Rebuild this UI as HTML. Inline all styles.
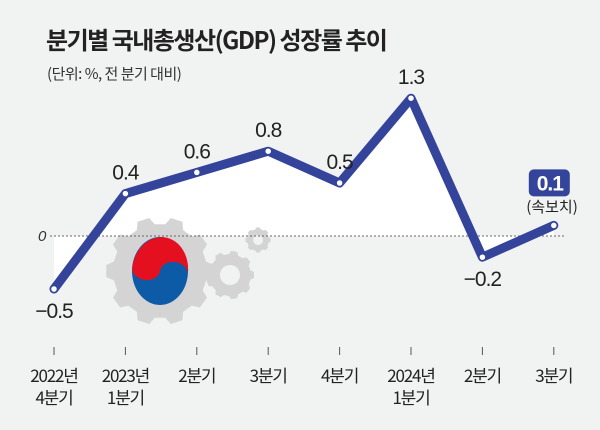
<!DOCTYPE html>
<html><head><meta charset="utf-8"><style>
body{margin:0;background:#f1f2f2;width:600px;height:430px;overflow:hidden;font-family:"Liberation Sans","Noto Sans CJK KR",sans-serif}
</style></head><body>
<svg width="600" height="430" style="position:absolute;left:0;top:0">
<text x="46" y="49" font-size="24" font-weight="bold" fill="#222" font-family="Noto Sans CJK KR, sans-serif" letter-spacing="-1.5">분기별 국내총생산(GDP) 성장률 추이</text>
<text x="47" y="79" font-size="15" fill="#333" font-family="Noto Sans CJK KR, sans-serif" letter-spacing="-0.5">(단위: %, 전 분기 대비)</text>
<g id="chart"></g>
</svg>
<script>
const categories1=["2022년","2023년","2분기","3분기","4분기","2024년","2분기","3분기"];
const categories2=["4분기","1분기","","","","1분기","",""];
const values=[-0.5,0.4,0.6,0.8,0.5,1.3,-0.2,0.1];
const labels=["−0.5","0.4","0.6","0.8","0.5","1.3","−0.2","0.1"];
const NS="http://www.w3.org/2000/svg";
const g=document.getElementById('chart');
const x=i=>54+i*71.4;
const y=v=>236-v*106;
function mk(t,a,p){const e=document.createElementNS(NS,t);for(const k in a)e.setAttribute(k,a[k]);(p||g).appendChild(e);return e;}
let pts=values.map((v,i)=>x(i)+","+y(v)).join(" ");
const area=mk('polygon',{points:x(0)+","+y(0)+" "+pts+" "+x(values.length-1)+","+y(0),fill:"#fff"});


const d=mk('g',{});


function gear(cx,cy,r,teeth,hole){
 let p="";for(let i=0;i<teeth*2;i++){const a=i*Math.PI/teeth;const rr=i%2?r:r*1.15;for(const da of[-0.18,0.18]){const aa=a+da*Math.PI/teeth*2;p+=(p?"L":"M")+(cx+rr*Math.cos(aa))+","+(cy+rr*Math.sin(aa));}}
 mk('path',{d:p+"Z",fill:"#d4d4d4"},d);if(hole)mk('circle',{cx,cy,r:hole,fill:"#f1f2f2"},d);
}
gear(160,271,47,10,0);gear(230,275,21,9,10);gear(258,240,11,8,5);
mk('ellipse',{cx:160,cy:271,rx:28,ry:34,fill:"#0d5aa7"},d);
mk('path',{d:"M132,271 A28,34 0 0 1 188,271 A14,11 0 0 0 160,271 A14,11 0 0 1 132,271Z",fill:"#e5101f",transform:"rotate(8 160 271)"},d);
const zl=mk('line',{x1:50,x2:566,y1:y(0),y2:y(0),stroke:"#666","stroke-dasharray":"2,2","stroke-width":1});


const zt=mk('text',{x:38,y:y(0)+5,"font-size":15,"font-style":"italic",fill:"#333"});zt.textContent="0";


const line=mk('polyline',{points:pts,fill:"none",stroke:"#34449a","stroke-width":9,"stroke-linejoin":"round","stroke-linecap":"round"});


values.forEach((v,i)=>{
 const c=mk('circle',{cx:x(i),cy:y(v),r:3.5,fill:"#fff",stroke:"#34449a","stroke-width":1.5});
 
 
 const last=i===values.length-1;
 if(last){
  const b=mk('rect',{x:x(i)-25,y:y(v)-56,width:41,height:27,rx:5,fill:"#34449a"});
  
  
 }
 const ty=last?y(v)-35:(v<0?y(v)+29:y(v)-14);
 const t=mk('text',{x:last?x(i)-4:x(i),y:ty,"text-anchor":"middle","font-size":21,fill:last?"#fff":"#222","letter-spacing":"-1","font-weight":last?"bold":"normal"});
 t.textContent=labels[i];
 
 
 const tk=mk('line',{x1:x(i),x2:x(i),y1:347,y2:355,stroke:"#555","stroke-width":1});
 
 
 const l1=mk('text',{x:x(i),y:382,"text-anchor":"middle","font-size":17,fill:"#222","letter-spacing":"-1.2","font-family":"Noto Sans CJK KR, sans-serif"});
 l1.textContent=categories1[i];
 
 
 if(categories2[i]){const l2=mk('text',{x:x(i),y:404,"text-anchor":"middle","font-size":17,fill:"#222","letter-spacing":"-1.2","font-family":"Noto Sans CJK KR, sans-serif"});
 l2.textContent=categories2[i];
 
 }
});
const pn=mk('text',{x:552,y:212,"text-anchor":"middle","font-size":15,fill:"#222","font-family":"Noto Sans CJK KR, sans-serif"});
pn.textContent="(속보치)";


</script>
</body></html>
